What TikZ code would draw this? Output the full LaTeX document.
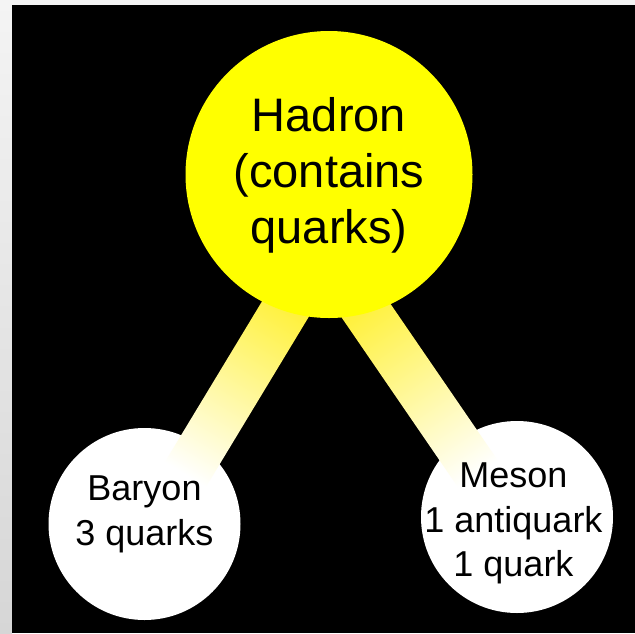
\documentclass[tikz,border=0pt]{standalone}
\usepackage{fontspec}
\setmainfont{Liberation Sans}
\usetikzlibrary{calc}
\definecolor{hadyellow}{HTML}{FFFF00}
\definecolor{bandyellow}{HTML}{FFF030}
\definecolor{stripgray}{HTML}{F4F4F4}
\definecolor{stripdark}{HTML}{D6D6D6}
\begin{document}
\begin{tikzpicture}[x=1pt,y=-1pt,
  bigball/.style={circle, fill=hadyellow, minimum size=287pt, inner sep=0pt},
  smallball/.style={circle, fill=white, minimum size=192pt, inner sep=0pt},
  bigtext/.style={font=\fontsize{47}{56}\selectfont, align=center, text=black, inner sep=0pt},
  smalltext/.style={font=\fontsize{36}{44.5}\selectfont, align=center, text=black, inner sep=0pt},
  band/.style={top color=bandyellow, bottom color=white}]
\useasboundingbox (0,0) rectangle (635,633);
% background
\fill[stripgray] (0,0) rectangle (635,5);
\shade[top color=stripgray, bottom color=stripdark] (0,0) rectangle (12,633);
\fill[black] (12,5) rectangle (635,633);
% small balls
\node[smallball] (baryon) at (144.5,524) {};
\node[smallball] (meson) at (517,517) {};
% band end points
\coordinate (lA) at (303,280);
\coordinate (lB) at (176,490);
\coordinate (rA) at (345,280);
\coordinate (rB) at (489,490);
% bands
\shade[band, shading angle=-31]
  ($(lA)!24pt!90:(lB)$) -- ($(lA)!24pt!-90:(lB)$) -- ($(lB)!24pt!90:(lA)$) -- ($(lB)!24pt!-90:(lA)$) -- cycle;
\shade[band, shading angle=34]
  ($(rA)!24pt!90:(rB)$) -- ($(rA)!24pt!-90:(rB)$) -- ($(rB)!24pt!90:(rA)$) -- ($(rB)!24pt!-90:(rA)$) -- cycle;
% big ball
\node[bigball] (hadron) at (329,174.5) {};
% texts
\node[bigtext] (hadrontext) at (329,175.8) {Hadron\\(contains\\quarks)};
\node[smalltext] (baryontext) at (144.5,514.5) {Baryon\\3 quarks};
\node[smalltext] (mesontext) at (513.5,523.4) {Meson\\1 antiquark\\1 quark};
\end{tikzpicture}
\end{document}
